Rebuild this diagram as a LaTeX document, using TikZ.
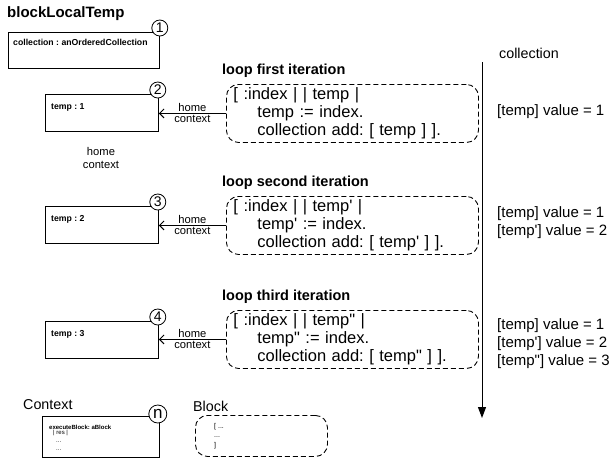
\documentclass[tikz,border=0pt]{standalone}
\usepackage{fontspec}
\setmainfont{Liberation Sans}[Ligatures=TeXOff]
\usetikzlibrary{arrows.meta}
\frenchspacing

\begin{document}
\begin{tikzpicture}[x=1pt, y=-1pt,
  objbox/.style={draw, line width=0.8pt, anchor=north west, inner sep=0pt},
  blockbox/.style={draw, line width=0.9pt, dash pattern=on 5pt off 3pt,
    rounded corners=12pt, anchor=north west, inner sep=0pt},
  codebox/.style={blockbox, minimum width=252pt, minimum height=58pt,
    inner xsep=7pt, text width=238pt, align=left,
    font=\fontsize{16.5}{18}\selectfont},
  numcirc/.style={circle, draw, fill=white, line width=0.8pt, inner sep=0pt,
    minimum size=16pt, font=\fontsize{14}{14}\selectfont},
  boxlabel/.style={anchor=west, inner sep=0pt, font=\bfseries\fontsize{8.7}{10}\selectfont},
  itertitle/.style={anchor=west, inner sep=0pt, font=\bfseries\fontsize{14.5}{17}\selectfont},
  smalltext/.style={inner sep=0pt, align=center, font=\fontsize{11.2}{13}\selectfont},
  valtext/.style={anchor=west, inner sep=0pt, align=left, font=\fontsize{15}{18}\selectfont},
  bigtext/.style={anchor=west, inner sep=0pt, font=\fontsize{14.3}{17}\selectfont},
  tinytext/.style={anchor=west, inner sep=0pt, font=\fontsize{6}{7}\selectfont},
  homearrow/.style={line width=1pt, -{Straight Barb[length=4.5pt, width=9pt]}}
]
\useasboundingbox (0,0) rectangle (611,459);

% heading
\node[anchor=west, inner sep=0pt, font=\bfseries\fontsize{15}{18}\selectfont] (title) at (7,14) {blockLocalTemp};

% the method context holding the collection
\node[objbox, minimum width=151pt, minimum height=36pt] (b1) at (8,32) {};
\node[boxlabel] (b1t) at ([shift={(5,10)}]b1.north west) {collection : anOrderedCollection};
\node[numcirc] (c1) at ([shift={(0,-4)}]b1.north east) {1};

% contexts created for each iteration
\node[objbox, minimum width=113pt, minimum height=37pt] (b2) at (45,94) {};
\node[boxlabel] (b2t) at ([shift={(6,13)}]b2.north west) {temp : 1};
\node[numcirc] (c2) at ([shift={(-1,-4)}]b2.north east) {2};

\node[objbox, minimum width=113pt, minimum height=37pt] (b3) at (45,206) {};
\node[boxlabel] (b3t) at ([shift={(6,13)}]b3.north west) {temp : 2};
\node[numcirc] (c3) at ([shift={(-1,-4)}]b3.north east) {3};

\node[objbox, minimum width=113pt, minimum height=37pt] (b4) at (45,321) {};
\node[boxlabel] (b4t) at ([shift={(6,13)}]b4.north west) {temp : 3};
\node[numcirc] (c4) at ([shift={(-1,-4)}]b4.north east) {4};

\node[smalltext] (hc) at (101,158) {home\\context};

% blocks of the three iterations
\node[itertitle] (t1) at (222,71) {loop first iteration};
\node[codebox] (d1) at (226,84) {[ :index | | temp |\\\hspace*{24pt}temp := index.\\\hspace*{24pt}collection add: [ temp ] ].};

\node[itertitle] (t2) at (222,183) {loop second iteration};
\node[codebox] (d2) at (226,196) {[ :index | | temp' |\\\hspace*{24pt}temp' := index.\\\hspace*{24pt}collection add: [ temp' ] ].};

\node[itertitle] (t3) at (222,297) {loop third iteration};
\node[codebox] (d3) at (226,310) {[ :index | | temp" |\\\hspace*{24pt}temp" := index.\\\hspace*{24pt}collection add: [ temp" ] ].};

% home context links
\draw[homearrow] (d1.west) -- (d1.west -| b2.east)
  node[smalltext, midway, above=1pt] (h1a) {home}
  node[smalltext, midway, below=1pt] (h1b) {context};
\draw[homearrow] (d2.west) -- (d2.west -| b3.east)
  node[smalltext, midway, above=1pt] (h2a) {home}
  node[smalltext, midway, below=1pt] (h2b) {context};
\draw[homearrow] (d3.west) -- (d3.west -| b4.east)
  node[smalltext, midway, above=1pt] (h3a) {home}
  node[smalltext, midway, below=1pt] (h3b) {context};

% contents of the collection over time
\node[bigtext] (coll) at (499,53) {collection};
\coordinate (ctop) at (482,62);
\coordinate (cbot) at (482,418);
\draw[line width=1pt, -{Triangle[length=11pt, width=8pt]}] (ctop) -- (cbot);
\node[valtext] (v1) at (497,112) {[temp] value = 1};
\node[valtext] (v2) at (497,223) {[temp] value = 1\\[0pt][temp'] value = 2};
\node[valtext] (v3) at (497,344) {[temp] value = 1\\[0pt][temp'] value = 2\\[0pt][temp"] value = 3};

% legend
\node[bigtext] (ctxl) at (23,405) {Context};
\node[objbox, minimum width=117pt, minimum height=41pt] (bn) at (42,416) {};
\node[numcirc, minimum size=18pt, font=\fontsize{17}{17}\selectfont] (cn) at ([shift={(-2,-2)}]bn.north east) {n};
\node[tinytext, font=\bfseries\fontsize{6}{7}\selectfont] (x1) at (49,427) {executeBlock: aBlock};
\node[tinytext] (x2) at (53,433) {| res |};
\node[tinytext] (x3) at (56,442) {...};
\node[tinytext] (x4) at (56,450) {...};

\node[bigtext] (blkl) at (193,406) {Block};
\node[blockbox, minimum width=132pt, minimum height=41pt] (dn) at (195,415) {};
\node[tinytext, font=\fontsize{7}{8}\selectfont] (y1) at (214,427) {[ ...};
\node[tinytext, font=\fontsize{7}{8}\selectfont] (y2) at (214,437) {...};
\node[tinytext, font=\fontsize{7}{8}\selectfont] (y3) at (214,446) {]};
\end{tikzpicture}
\end{document}
